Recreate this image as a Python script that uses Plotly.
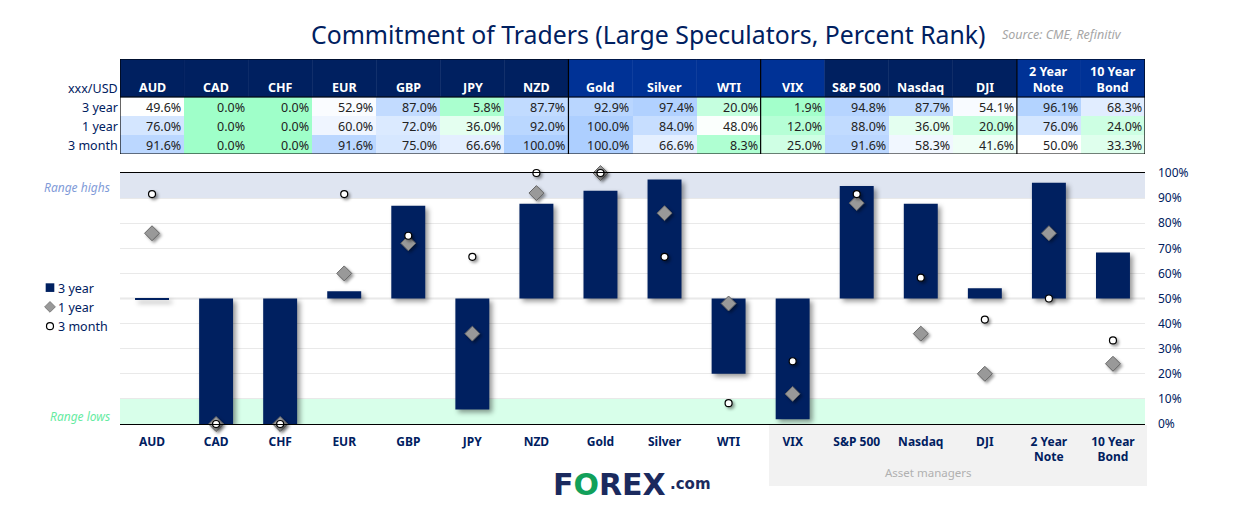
import plotly.graph_objects as go

W, H = 1247, 518
categories = ["AUD","CAD","CHF","EUR","GBP","JPY","NZD","Gold","Silver","WTI","VIX","S&P 500","Nasdaq","DJI","2 Year Note","10 Year Bond"]
tick_labels = ["AUD","CAD","CHF","EUR","GBP","JPY","NZD","Gold","Silver","WTI","VIX","S&P 500","Nasdaq","DJI","2 Year<br>Note","10 Year<br>Bond"]
year3 = [49.6,0.0,0.0,52.9,87.0,5.8,87.7,92.9,97.4,20.0,1.9,94.8,87.7,54.1,96.1,68.3]
year1 = [76.0,0.0,0.0,60.0,72.0,36.0,92.0,100.0,84.0,48.0,12.0,88.0,36.0,20.0,76.0,24.0]
month3 = [91.6,0.0,0.0,91.6,75.0,66.6,100.0,100.0,66.6,8.3,25.0,91.6,58.3,41.6,50.0,33.3]
row_labels = ["3 year","1 year","3 month"]
y_ticks = [0,10,20,30,40,50,60,70,80,90,100]

NAVY = "#002060"
BLUE = "#003296"
FONT = "Noto Sans"
header_colors = [NAVY]*7 + [BLUE]*4 + [NAVY]*3 + [BLUE]*2

def xp(x): return x / W
def yp(y): return 1 - y / H

fig = go.Figure()

# main chart
fig.add_trace(go.Bar(x=categories, y=[v-50 for v in year3], base=50, name="3 year",
                     marker=dict(color=NAVY, line=dict(width=0)), hoverinfo="skip"))
fig.add_trace(go.Scatter(x=categories, y=year1, mode="markers", name="1 year", cliponaxis=False,
                         marker=dict(symbol="diamond", size=11.5, color="#999999", line=dict(color="#666666", width=1)),
                         hoverinfo="skip"))
fig.add_trace(go.Scatter(x=categories, y=month3, mode="markers", name="3 month", cliponaxis=False,
                         marker=dict(symbol="circle", size=7, color="white", line=dict(color="black", width=1.2)),
                         hoverinfo="skip"))

# table
z = [month3, year1, year3]
fig.add_trace(go.Heatmap(x=categories, y=[0.5,1.5,2.5], z=z, xaxis="x2", yaxis="y2", zmin=0, zmax=100,
                         colorscale=[[0,"#9FFFC9"],[0.5,"#FFFFFF"],[1,"#ADCFFF"]], showscale=False,
                         hoverinfo="skip", showlegend=False))

shapes = []
# header blocks
for i, c in enumerate(header_colors):
    shapes.append(dict(type="rect", xref="x2", yref="y2", x0=i-0.5, x1=i+0.5, y0=3, y1=5,
                       fillcolor=c, line=dict(width=0.5, color=c), layer="above"))
# table frame
shapes.append(dict(type="rect", xref="x2", yref="y2", x0=-0.5, x1=15.5, y0=0, y1=5,
                   line=dict(color="black", width=1.2), layer="above"))
shapes.append(dict(type="line", xref="x2", yref="y2", x0=-0.5, x1=15.5, y0=3, y1=3,
                   line=dict(color="black", width=1.2), layer="above"))
for b in [6.5, 9.5, 13.5]:
    shapes.append(dict(type="line", xref="x2", yref="y2", x0=b, x1=b, y0=0, y1=5,
                       line=dict(color="black", width=1.2), layer="above"))
# bands
shapes.append(dict(type="rect", xref="x domain", yref="y", x0=0, x1=1, y0=90, y1=100,
                   fillcolor="#DFE5F1", line=dict(width=0), layer="below"))
shapes.append(dict(type="rect", xref="x domain", yref="y", x0=0, x1=1, y0=0, y1=10,
                   fillcolor="#D8FFEA", line=dict(width=0), layer="below"))
# asset-manager panel
shapes.append(dict(type="rect", xref="paper", yref="paper", x0=xp(769), x1=xp(1147), y0=yp(486), y1=yp(425),
                   fillcolor="#F2F2F2", line=dict(width=0), layer="below"))

ann = []
def text(x, y, s, size=12, color=NAVY, anchor="left", **kw):
    ann.append(dict(xref="paper", yref="paper", x=xp(x), y=yp(y), text=s, showarrow=False,
                    xanchor=anchor, yanchor="middle", font=dict(size=size, color=color, family=kw.pop("family", FONT)), **kw))

# table texts
for r, vals in enumerate([year3, year1, month3]):
    ypos = 2.5 - r
    ann.append(dict(xref="paper", yref="y2", x=xp(120), y=ypos, yshift=-1, text=row_labels[r], showarrow=False,
                    xanchor="right", yanchor="middle", font=dict(size=12.5, color=NAVY, family=FONT)))
    for i, v in enumerate(vals):
        ann.append(dict(xref="x2", yref="y2", x=i, y=ypos, yshift=-1, text=f"{v:.1f}%", showarrow=False, xanchor="right",
                        xshift=31, yanchor="middle", font=dict(size=12.5, color="#222222", family=FONT)))
for i, lab in enumerate(tick_labels):
    ann.append(dict(xref="x2", yref="y2", x=i, y=3.0, yshift=-1, text=f"<b>{lab}</b>", showarrow=False, xanchor="center",
                    yanchor="bottom", font=dict(size=12.5, color="white", family=FONT)))
ann.append(dict(xref="paper", yref="y2", x=xp(120), y=3.5, yshift=-1, text="xxx/USD", showarrow=False,
                xanchor="right", yanchor="middle", font=dict(size=12.5, color=NAVY, family=FONT)))

text(1000, 35, "<i>Source: CME, Refinitiv</i>", size=12.5, color="#A6A6A6")
text(111.5, 188, "<i>Range highs</i>", size=12, color="#7F9BD8", anchor="right")
text(111.5, 416, "<i>Range lows</i>", size=12, color="#66EBA2", anchor="right")
text(928, 472, "Asset managers", size=11.5, color="#B0B0B0", anchor="center")
text(551, 484, "<b>F<span style='color:#12A05A'>O</span>REX</b>", size=30, color="#1B2A5E", family="DejaVu Sans")
text(668, 484, "<b>.com</b>", size=15, color="#1B2A5E", family="DejaVu Sans")

fig.update_layout(
    width=W, height=H, margin=dict(l=0, r=0, t=0, b=0),
    paper_bgcolor="white", plot_bgcolor="white",
    font=dict(family=FONT, color=NAVY, size=12),
    title=dict(text="Commitment of Traders (Large Speculators, Percent Rank)", x=xp(311), xanchor="left",
               y=yp(35), yanchor="middle", font=dict(size=24.8, color=NAVY, family=FONT)),
    bargap=0.47,
    showlegend=True,
    legend=dict(x=xp(18), y=yp(273), xanchor="left", yanchor="top", bgcolor="rgba(0,0,0,0)",
                font=dict(size=12.5, color=NAVY, family=FONT), tracegroupgap=0, itemclick=False, itemdoubleclick=False),
    xaxis=dict(domain=[xp(120), xp(1145)], type="category", categoryorder="array", categoryarray=categories,
               tickmode="array", tickvals=categories, ticktext=[f"<b>{t}</b>" for t in tick_labels],
               tickfont=dict(size=12, color=NAVY, family=FONT), ticks="", ticklabelstandoff=6, automargin=False,
               showline=True, linecolor="black", linewidth=1.2, mirror=True, showgrid=False, anchor="y",
               range=[-0.5, 15.5]),
    yaxis=dict(domain=[yp(424), yp(173)], range=[0, 100], side="right", tickmode="array", tickvals=y_ticks,
               ticktext=[f"{t}%" for t in y_ticks], tickfont=dict(size=12, color=NAVY, family=FONT),
               ticks="", ticklabelstandoff=12, showgrid=True, gridcolor="#E9E9E9", gridwidth=1, automargin=False,
               showline=False, zeroline=False),
    xaxis2=dict(domain=[xp(120), xp(1145)], type="category", categoryorder="array", categoryarray=categories,
                range=[-0.5, 15.5], showticklabels=False, ticks="", showgrid=False, showline=False, anchor="y2",
                zeroline=False, automargin=False),
    yaxis2=dict(domain=[yp(154), yp(59)], range=[0, 5], showticklabels=False, ticks="", showgrid=False, showline=False,
                anchor="x2", zeroline=False, automargin=False),
    shapes=shapes + [dict(type="line", xref="x domain", yref="y", x0=0, x1=1, y0=50, y1=50,
                          line=dict(color="#CFCFCF", width=1.5), layer="below")],
    annotations=ann,
)

post = """
document.body.style.margin='0';
document.documentElement.style.overflow='hidden';
var st=document.createElement('style');
st.textContent='.barlayer .point path{filter:drop-shadow(3px 3px 2.5px rgba(0,0,0,.4));}'+
 '.scatterlayer .points path{filter:drop-shadow(2px 2px 1.5px rgba(0,0,0,.4));}'+
 '.legend .layers{transform:translate(12px,0);}'+
 '.legend .traces:nth-child(1) .layers path,.legend .traces:nth-child(2) .layers path{transform:translate(20px,0) scale(.72);}';
document.head.appendChild(st);
"""
fig.write_html("out.html", post_script=post, config={"displayModeBar": False})
